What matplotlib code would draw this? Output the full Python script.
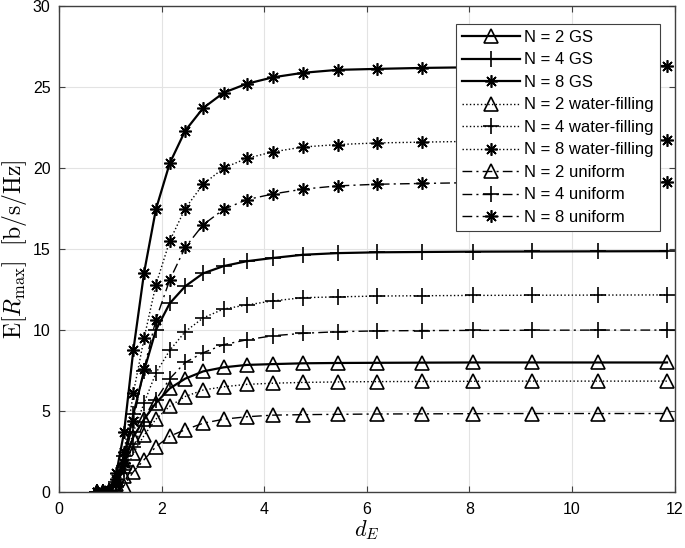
import numpy as np
import matplotlib
matplotlib.use("Agg")
import matplotlib.pyplot as plt

plt.rcParams['font.family'] = ['Liberation Sans', 'DejaVu Sans']
plt.rcParams['mathtext.fontset'] = 'cm'

# distance d_E (marker positions)
d_E = [0.75, 0.86, 0.98, 1.12, 1.27, 1.45, 1.66, 1.89, 2.16, 2.46, 2.81,
       3.21, 3.66, 4.17, 4.76, 5.43, 6.2, 7.08, 8.07, 9.21, 10.5, 11.85]

gs2 = [0, 0, 0.05, 0.5, 1.8, 3.4, 4.5, 5.5, 6.4, 7.0, 7.45, 7.7, 7.85, 7.9,
       7.95, 7.97, 7.98, 7.99, 8.0, 8.0, 8.0, 8.0]
gs4 = [0, 0, 0.05, 0.6, 2.2, 4.8, 7.5, 10.0, 11.65, 12.7, 13.5, 13.95, 14.25,
       14.45, 14.65, 14.75, 14.8, 14.82, 14.84, 14.85, 14.86, 14.87]
gs8 = [0, 0, 0.1, 1.2, 3.7, 8.75, 13.55, 17.45, 20.3, 22.3, 23.7, 24.65, 25.2,
       25.6, 25.88, 26.06, 26.12, 26.18, 26.22, 26.25, 26.28, 26.3]
wf2 = [0, 0, 0.03, 0.3, 1.0, 2.4, 3.5, 4.5, 5.3, 5.9, 6.3, 6.5, 6.65, 6.72,
       6.77, 6.8, 6.82, 6.83, 6.84, 6.85, 6.85, 6.85]
wf4 = [0, 0, 0.04, 0.4, 1.6, 3.7, 5.5, 7.35, 8.75, 9.9, 10.75, 11.3, 11.55,
       11.8, 12.0, 12.05, 12.1, 12.12, 12.14, 12.15, 12.16, 12.17]
wf8 = [0, 0, 0.06, 0.8, 2.5, 6.1, 9.5, 12.8, 15.5, 17.5, 19.0, 20.0, 20.6,
       21.0, 21.3, 21.45, 21.55, 21.6, 21.65, 21.7, 21.72, 21.75]
un2 = [0, 0, 0.02, 0.1, 0.4, 1.25, 2.0, 2.8, 3.45, 3.85, 4.25, 4.5, 4.65,
       4.75, 4.78, 4.8, 4.82, 4.83, 4.84, 4.85, 4.85, 4.85]
un4 = [0, 0, 0.02, 0.3, 1.2, 2.8, 4.3, 5.7, 7.0, 8.0, 8.6, 9.1, 9.4, 9.65,
       9.8, 9.9, 9.95, 9.97, 9.98, 9.99, 10.0, 10.0]
un8 = [0, 0, 0.04, 0.5, 1.8, 4.4, 7.6, 10.65, 13.1, 15.1, 16.5, 17.45, 18.05,
       18.4, 18.7, 18.9, 19.0, 19.05, 19.1, 19.12, 19.14, 19.15]

labels = ['N = 2 GS', 'N = 4 GS', 'N = 8 GS',
          'N = 2 water-filling', 'N = 4 water-filling', 'N = 8 water-filling',
          'N = 2 uniform', 'N = 4 uniform', 'N = 8 uniform']
series = [gs2, gs4, gs8, wf2, wf4, wf8, un2, un4, un8]

star = (8, 2, 0)
markers = ['^', '+', star] * 3
msizes = [10, 12, 9] * 3
styles = ['-'] * 3 + [':'] * 3 + [(0, (7, 3, 1.5, 3))] * 3
widths = [1.6] * 3 + [1.0] * 3 + [1.0] * 3

fig = plt.figure(figsize=(6.85, 5.48), dpi=100)
ax = fig.add_axes([0.086, 0.102, 0.899, 0.887])

for y, lab, m, ms, ls, lw in zip(series, labels, markers, msizes, styles, widths):
    ax.plot(d_E, y, linestyle=ls, linewidth=lw, color='black', marker=m,
            markersize=ms, markerfacecolor='none', markeredgecolor='black',
            markeredgewidth=1.2, label=lab)

ax.set_xlim(0, 12)
ax.set_ylim(0, 30)
ax.set_xticks(np.arange(0, 13, 2))
ax.set_yticks(np.arange(0, 31, 5))
ax.grid(True, color='#e3e3e3', linewidth=0.8)
ax.set_axisbelow(True)
ax.tick_params(direction='in', top=True, right=True, labelsize=11.5,
               color='#404040', length=4)
ax.tick_params(axis='x', pad=7)
ax.tick_params(axis='y', pad=6)
for s in ax.spines.values():
    s.set_color('#404040')
    s.set_linewidth(1.0)

ax.set_xlabel(r'$d_E$', fontsize=16, labelpad=1)
ax.set_ylabel(r'$\mathrm{E}[R_{\mathrm{max}}]\ \ [\mathrm{b/s/Hz}]$', fontsize=17,
              labelpad=3)

leg = ax.legend(loc='upper right', bbox_to_anchor=(0.976, 0.963), fontsize=12,
                handlelength=3.5, labelspacing=0.45, borderpad=0.35,
                handletextpad=0.25, fancybox=False, framealpha=1,
                edgecolor='#404040', borderaxespad=0)
leg.get_frame().set_linewidth(0.8)

fig.savefig('out.png', dpi=100)
